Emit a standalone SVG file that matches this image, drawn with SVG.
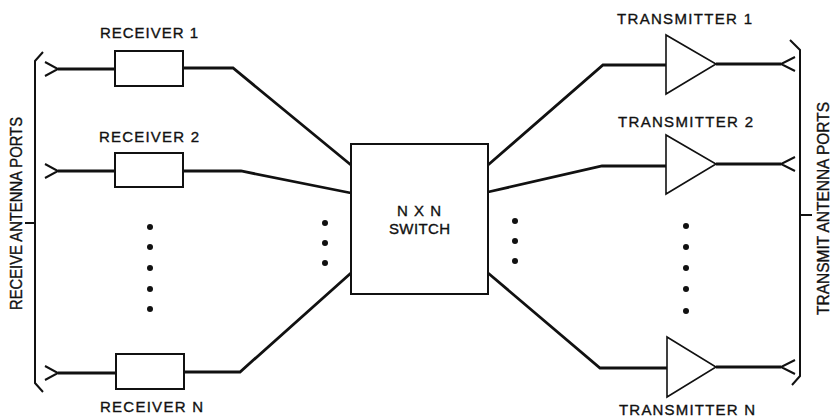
<svg xmlns="http://www.w3.org/2000/svg" width="832" height="418" viewBox="0 0 832 418">
<style>
.bg{fill:#ffffff}
.wire{fill:none;stroke:#111;stroke-width:2.8;stroke-linejoin:miter}
.box{fill:#fff;stroke:#111;stroke-width:2}
.amp{fill:#fff;stroke:#111;stroke-width:1.6;stroke-linejoin:miter}
.ant{fill:none;stroke:#111;stroke-width:2}
.brk{fill:none;stroke:#111;stroke-width:2}
.dot{fill:#111}
.lbl{font-family:"Liberation Sans",Arial,sans-serif;font-size:15px;fill:#111;stroke:#111;stroke-width:0.35}
.vlbl{font-family:"Liberation Sans",Arial,sans-serif;font-size:16.5px;fill:#111;stroke:#111;stroke-width:0.35;text-anchor:middle}
</style>
<rect class="bg" x="0" y="0" width="832" height="418"/>
<g id="connectors">
<path class="wire" d="M58,69 L115,69"/>
<path class="wire" d="M183,68 L233,68 L351,165"/>
<path class="wire" d="M58,171 L115,171"/>
<path class="wire" d="M183,171 L241,171 L351,193"/>
<path class="wire" d="M58,373 L116,373"/>
<path class="wire" d="M184,372 L240,372 L351,273"/>
<path class="wire" d="M488,165 L603,65 L666,65"/>
<path class="wire" d="M716,64 L781,64"/>
<path class="wire" d="M488,192 L602,166 L666,166"/>
<path class="wire" d="M716,164 L781,164"/>
<path class="wire" d="M488,273 L600,368 L667,368"/>
<path class="wire" d="M716,367 L781,367"/>
</g>
<g id="receive-ports">
<path class="brk" d="M43,52 L35,61 L35,383 L43,392"/>
<path class="brk" d="M25,223 L35,223"/>
<path class="ant" d="M45,62 L58,69 L45,76"/>
<path class="ant" d="M45,164 L58,171 L45,178"/>
<path class="ant" d="M45,366 L58,373 L45,380"/>
<text class="vlbl" transform="translate(22,213.5) rotate(-90)" textLength="193" lengthAdjust="spacingAndGlyphs">RECEIVE ANTENNA PORTS</text>
</g>
<g id="receiver-1">
<rect class="box" x="115" y="51" width="68" height="35"/>
<text class="lbl" x="100" y="38" textLength="98" lengthAdjust="spacing">RECEIVER 1</text>
</g>
<g id="receiver-2">
<rect class="box" x="115" y="153" width="68" height="34"/>
<text class="lbl" x="99" y="142" textLength="100" lengthAdjust="spacing">RECEIVER 2</text>
</g>
<g id="receiver-n">
<rect class="box" x="116" y="354" width="68" height="35"/>
<text class="lbl" x="100" y="412" textLength="103" lengthAdjust="spacing">RECEIVER N</text>
</g>
<g id="receiver-dots">
<circle class="dot" cx="150" cy="227" r="3"/>
<circle class="dot" cx="150" cy="247" r="3"/>
<circle class="dot" cx="150" cy="268" r="3"/>
<circle class="dot" cx="150" cy="289" r="3"/>
<circle class="dot" cx="150" cy="309" r="3"/>
</g>
<g id="switch-in-dots">
<circle class="dot" cx="325" cy="223" r="3"/>
<circle class="dot" cx="325" cy="243" r="3"/>
<circle class="dot" cx="325" cy="263" r="3"/>
</g>
<g id="switch">
<rect class="box" x="351" y="144" width="137" height="150"/>
<text class="lbl" x="397" y="216" textLength="44" lengthAdjust="spacing">N X N</text>
<text class="lbl" x="389" y="234" textLength="61" lengthAdjust="spacing">SWITCH</text>
</g>
<g id="switch-out-dots">
<circle class="dot" cx="515" cy="221" r="3"/>
<circle class="dot" cx="515" cy="241" r="3"/>
<circle class="dot" cx="515" cy="261" r="3"/>
</g>
<g id="transmitter-1">
<polygon class="amp" points="666,35 666,94 716,64"/>
<text class="lbl" x="617" y="24" textLength="135" lengthAdjust="spacing">TRANSMITTER 1</text>
</g>
<g id="transmitter-2">
<polygon class="amp" points="666,135 666,194 716,164"/>
<text class="lbl" x="618" y="127" textLength="135" lengthAdjust="spacing">TRANSMITTER 2</text>
</g>
<g id="transmitter-n">
<polygon class="amp" points="667,337 667,397 716,367"/>
<text class="lbl" x="619" y="415" textLength="136" lengthAdjust="spacing">TRANSMITTER N</text>
</g>
<g id="transmitter-dots">
<circle class="dot" cx="686" cy="226" r="3"/>
<circle class="dot" cx="686" cy="247" r="3"/>
<circle class="dot" cx="686" cy="268" r="3"/>
<circle class="dot" cx="686" cy="289" r="3"/>
<circle class="dot" cx="686" cy="311" r="3"/>
</g>
<g id="transmit-ports">
<path class="brk" d="M790,40 L800,50 L800,376 L792,385"/>
<path class="brk" d="M800,215 L812,215"/>
<path class="ant" d="M795,57 L781,64 L795,71"/>
<path class="ant" d="M795,157 L781,164 L795,171"/>
<path class="ant" d="M795,360 L781,367 L795,374"/>
<text class="vlbl" transform="translate(829,208.5) rotate(-90)" textLength="213" lengthAdjust="spacingAndGlyphs">TRANSMIT ANTENNA PORTS</text>
</g>
</svg>
